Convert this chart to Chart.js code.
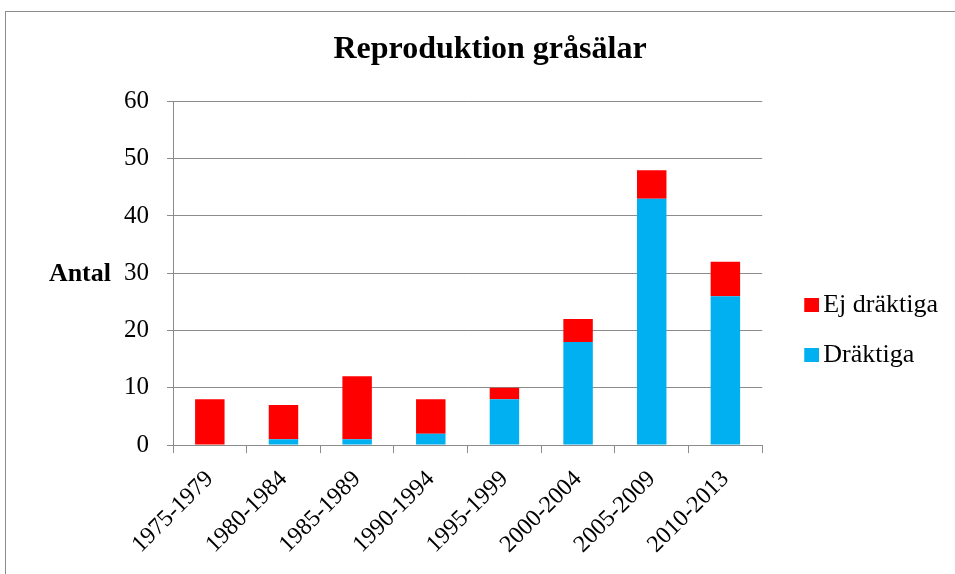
<!DOCTYPE html>
<html>
<head>
<meta charset="utf-8">
<script src="https://cdn.jsdelivr.net/npm/chart.js@4/dist/chart.umd.min.js"></script>
<style>
  html, body { margin: 0; padding: 0; background: #fff; }
  #wrap { width: 955px; height: 574px; }
</style>
</head>
<body>
<div id="wrap"><canvas id="chart"></canvas></div>
<script>
const periods = ["1975-1979", "1980-1984", "1985-1989", "1990-1994", "1995-1999", "2000-2004", "2005-2009", "2010-2013"];
const draktiga = [0, 1, 1, 2, 8, 18, 43, 26];
const ejDraktiga = [8, 6, 11, 6, 2, 4, 5, 6];

const serif = "'Liberation Serif', 'Times New Roman', serif";
const colors = { 'Dräktiga': '#00B0F0', 'Ej dräktiga': '#FF0000' };

// legend marker: small square sitting on the right side of a wider transparent image
function marker(color) {
    const c = document.createElement('canvas');
    c.width = 42;
    c.height = 14;
    const g = c.getContext('2d');
    g.fillStyle = color;
    g.fillRect(27, 0, 15, 14);
    return c;
}

// frame around the whole chart, and the horizontal "Antal" axis label
const extras = {
    id: 'extras',
    beforeDraw(chart) {
        const ctx = chart.ctx;
        ctx.save();
        ctx.strokeStyle = '#8c8c8c';
        ctx.lineWidth = 1;
        ctx.strokeRect(5.5, 11.5, 1200, 1200);
        ctx.restore();
    },
    afterDraw(chart) {
        const ctx = chart.ctx;
        const area = chart.chartArea;
        ctx.save();
        ctx.font = "bold 26px " + serif;
        ctx.fillStyle = '#000';
        ctx.textAlign = 'right';
        ctx.textBaseline = 'middle';
        ctx.fillText('Antal', 111, (area.top + area.bottom) / 2 + 1);
        ctx.restore();
    }
};

new Chart(document.getElementById('chart'), {
    type: 'bar',
    data: {
        labels: periods,
        datasets: [
            { label: 'Dräktiga', data: draktiga, backgroundColor: colors['Dräktiga'] },
            { label: 'Ej dräktiga', data: ejDraktiga, backgroundColor: colors['Ej dräktiga'] }
        ]
    },
    options: {
        responsive: true,
        maintainAspectRatio: false,
        animation: false,
        datasets: { bar: { barPercentage: 0.4, categoryPercentage: 1.0 } },
        layout: { padding: { left: 32, right: 7, top: 0, bottom: 3 } },
        plugins: {
            title: {
                display: true,
                text: 'Reproduktion gråsälar',
                color: '#000',
                font: { family: serif, size: 32, weight: 'bold' },
                padding: { top: 31, bottom: 32 }
            },
            legend: {
                position: 'right',
                reverse: true,
                title: { display: true, text: '', padding: { top: 0, bottom: 75 } },
                labels: {
                    color: '#000',
                    font: { family: serif, size: 26 },
                    usePointStyle: true,
                    pointStyleWidth: 24,
                    boxHeight: 14,
                    padding: 24,
                    generateLabels(chart) {
                        const items = Chart.defaults.plugins.legend.labels.generateLabels(chart);
                        items.forEach(it => { it.pointStyle = marker(colors[it.text]); });
                        return items;
                    }
                }
            },
            tooltip: { enabled: false }
        },
        scales: {
            x: {
                stacked: true,
                grid: { drawOnChartArea: false, color: '#8c8c8c', tickLength: 8 },
                border: { color: '#8c8c8c' },
                ticks: {
                    color: '#000',
                    font: { family: serif, size: 24 },
                    maxRotation: 45,
                    minRotation: 45,
                    padding: 12
                }
            },
            y: {
                stacked: true,
                min: 0,
                max: 60,
                afterFit(scale) { scale.width = 141; },
                ticks: {
                    stepSize: 10,
                    color: '#000',
                    font: { family: serif, size: 25 },
                    padding: 18
                },
                grid: { color: '#8c8c8c', tickLength: 6 },
                border: { color: '#8c8c8c' }
            }
        }
    },
    plugins: [extras]
});
</script>
</body>
</html>
